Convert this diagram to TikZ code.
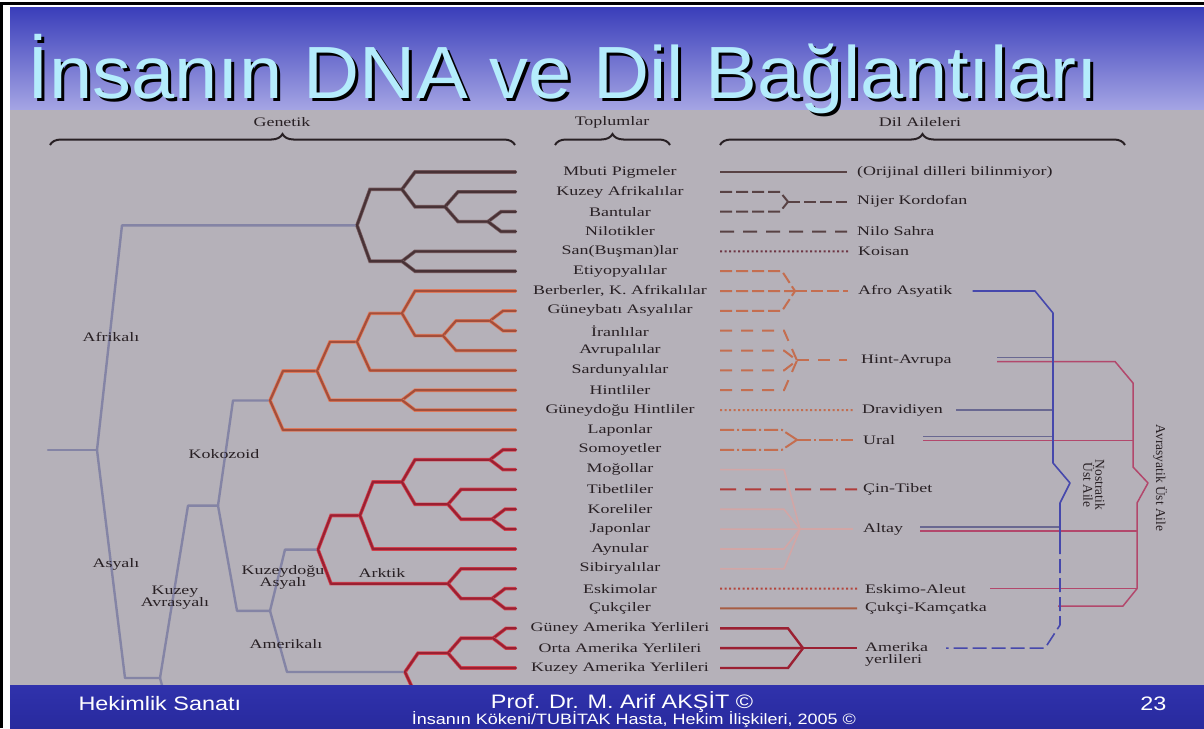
\documentclass[tikz,border=0pt]{standalone}
\usepackage{fontspec}
\setmainfont{Liberation Serif}
\newfontfamily\photofont[FakeStretch=1.38]{Liberation Serif}
\newfontfamily\titlefont[FakeStretch=1.05]{Liberation Sans}
\newfontfamily\footfont[FakeStretch=1.2]{Liberation Sans}
\usetikzlibrary{calc,decorations.pathreplacing}

\definecolor{bandtop}{RGB}{58,62,186}
\definecolor{bandbot}{RGB}{165,165,228}
\definecolor{titlecyan}{RGB}{180,236,252}
\definecolor{paper}{RGB}{181,177,185}
\definecolor{foottop}{RGB}{48,50,172}
\definecolor{footbot}{RGB}{40,42,158}
\definecolor{ink}{RGB}{40,32,36}
\definecolor{darkcore}{RGB}{72,50,54}
\definecolor{darkglow}{RGB}{120,92,96}
\definecolor{orcore}{RGB}{165,78,58}
\definecolor{orglow}{RGB}{228,128,98}
\definecolor{redcore}{RGB}{155,32,50}
\definecolor{redglow}{RGB}{215,70,82}
\definecolor{grayline}{RGB}{132,132,165}
\definecolor{nostblue}{RGB}{70,72,172}
\definecolor{avrred}{RGB}{178,72,108}
\definecolor{linkgray}{RGB}{105,104,145}
\definecolor{langdark}{RGB}{88,66,68}
\definecolor{langor}{RGB}{196,110,80}
\definecolor{langred}{RGB}{176,60,58}
\definecolor{langpale}{RGB}{210,166,166}

% branch: from parent, slant to the child's level, then straight on
\newcommand{\branch}[4][13]{\draw[#2] (#3) -- ([xshift=#1pt]#3 |- #4) -- (#4);}

\begin{document}
\begin{tikzpicture}[x=1pt, y=-1pt,
    lab/.style={font=\photofont\fontsize{13}{12}\selectfont, text=ink, inner sep=0pt},
    dil/.style={lab, anchor=west},
    tree/.style={line width=2.2pt, line cap=round, line join=round},
    darkbr/.style={tree, draw=darkcore, preaction={draw=darkglow, line width=3.6pt}},
    orbr/.style={tree, draw=orcore, preaction={draw=orglow, line width=3.6pt}},
    redbr/.style={tree, draw=redcore, preaction={draw=redglow, line width=3.6pt}},
    graybr/.style={line width=2.4pt, draw=grayline, line cap=round, line join=round},
    headbrace/.style={draw=ink, line width=2pt, decorate, decoration={brace, amplitude=11pt}},
    lang/.style={line width=2pt},
    nost/.style={draw=nostblue, line width=1.6pt, line join=round},
    avr/.style={draw=avrred, line width=1.5pt, line join=round},
    link/.style={draw=linkgray, line width=1.5pt}]

    % Slide background
    \useasboundingbox (0,0) rectangle (1204,728);
    \fill[white] (0,0) rectangle (1204,728);
    \shade[top color=bandtop, bottom color=bandbot] (10,7) rectangle (1204,110);
    \fill[paper] (10,110) rectangle (1204,685);
    \draw[line width=3pt] (1.5,728) -- (1.5,3.5) -- (1204,3.5);

    % Title
    \node[font=\titlefont\fontsize{74}{80}\selectfont, text=black, anchor=base, text depth=0pt] (titleshadow) at (566,101) {İnsanın DNA ve Dil Bağlantıları};
    \node[font=\titlefont\fontsize{74}{80}\selectfont, text=titlecyan, anchor=base, text depth=0pt] (title) at (563,98) {İnsanın DNA ve Dil Bağlantıları};

    % Column headers
    \node[lab] (genetik) at (282,122) {Genetik};
    \node[lab] (toplum) at (612,122) {Toplumlar};
    \node[lab] (aile) at (920,122) {Dil Aileleri};
    \draw[headbrace] (50,145) -- (515,145);
    \draw[headbrace] (555,145) -- (670,145);
    \draw[headbrace] (720,145) -- (1125,145);

    % Peoples
    \foreach \i/\lab in {1/Mbuti Pigmeler, 2/Kuzey Afrikalılar, 3/Bantular, 4/Nilotikler,
        5/San(Buşman)lar, 6/Etiyopyalılar, 7/{Berberler, K. Afrikalılar}, 8/Güneybatı Asyalılar,
        9/İranlılar, 10/Avrupalılar, 11/Sardunyalılar, 12/Hintliler, 13/Güneydoğu Hintliler,
        14/Laponlar, 15/Somoyetler, 16/Moğollar, 17/Tibetliler, 18/Koreliler, 19/Japonlar,
        20/Aynular, 21/Sibiryalılar, 22/Eskimolar, 23/Çukçiler, 24/Güney Amerika Yerlileri,
        25/Orta Amerika Yerlileri, 26/Kuzey Amerika Yerlileri} {
        \pgfmathsetmacro\ry{172+(\i-1)*19.84}
        \node[lab] (p\i) at (620,\ry) {\lab};
        \coordinate (t\i) at (516,\ry);
        \coordinate (d\i) at (720,\ry);
    }

    % Genetic tree: main (gray) branches
    \coordinate (stub) at (48,450);
    \coordinate (root) at (97,450);
    \coordinate (a0) at (357,225.32);
    \coordinate (asy) at (160,678);
    \coordinate (kav) at (218,505.6);
    \coordinate (kok) at (270,400.47);
    \coordinate (kdo) at (270,610.8);
    \coordinate (ark) at (318,549.58);
    \coordinate (amr) at (405,672);
    \draw[graybr] (stub) -- (root);
    \branch[25]{graybr}{root}{a0}
    \branch[28]{graybr}{root}{asy}
    \branch[28]{graybr}{asy}{kav}
    \draw[graybr] (asy) -- (166,700);
    \branch[15]{graybr}{kav}{kok}
    \branch[19]{graybr}{kav}{kdo}
    \branch[15]{graybr}{kdo}{ark}
    \branch[17]{graybr}{kdo}{amr}

    % Africans
    \coordinate (a1) at (402,189.36);
    \coordinate (a2) at (445,206.72);
    \coordinate (a3) at (488,221.6);
    \coordinate (a4) at (402,261.28);
    \branch{darkbr}{a0}{a1} \branch{darkbr}{a0}{a4}
    \branch{darkbr}{a1}{t1} \branch{darkbr}{a1}{a2}
    \branch{darkbr}{a2}{t2} \branch{darkbr}{a2}{a3}
    \branch{darkbr}{a3}{t3} \branch{darkbr}{a3}{t4}
    \branch{darkbr}{a4}{t5} \branch{darkbr}{a4}{t6}

    % Caucasoid
    \coordinate (c0) at (317,371.02);
    \coordinate (c1) at (357,341.88);
    \coordinate (c2) at (402,313.36);
    \coordinate (c3) at (443,335.68);
    \coordinate (c4) at (490,320.8);
    \coordinate (c5) at (402,400.16);
    \branch{orbr}{kok}{c0} \branch{orbr}{kok}{t14}
    \branch{orbr}{c0}{c1} \branch{orbr}{c0}{c5}
    \branch{orbr}{c1}{c2} \branch{orbr}{c1}{t11}
    \branch{orbr}{c2}{t7} \branch{orbr}{c2}{c3}
    \branch{orbr}{c3}{c4} \branch{orbr}{c3}{t10}
    \branch{orbr}{c4}{t8} \branch{orbr}{c4}{t9}
    \branch{orbr}{c5}{t12} \branch{orbr}{c5}{t13}

    % Arctic
    \coordinate (e0) at (360,515.48);
    \coordinate (e1) at (490,459.68);
    \coordinate (e2) at (402,482);
    \coordinate (e3) at (448,504.32);
    \coordinate (e4) at (492,519.2);
    \coordinate (e5) at (448,583.68);
    \coordinate (e6) at (492,598.56);
    \branch{redbr}{ark}{e0} \branch{redbr}{ark}{e5}
    \branch{redbr}{e0}{e2} \branch{redbr}{e0}{t20}
    \branch{redbr}{e2}{e1} \branch{redbr}{e2}{e3}
    \branch{redbr}{e1}{t15} \branch{redbr}{e1}{t16}
    \branch{redbr}{e3}{t17} \branch{redbr}{e3}{e4}
    \branch{redbr}{e4}{t18} \branch{redbr}{e4}{t19}
    \branch{redbr}{e5}{t21} \branch{redbr}{e5}{e6}
    \branch{redbr}{e6}{t22} \branch{redbr}{e6}{t23}

    % Americans
    \coordinate (m1) at (448,653.12);
    \coordinate (m2) at (493,638.24);
    \branch{redbr}{amr}{m1}
    \draw[redbr] (amr) -- (418,700);
    \branch{redbr}{m1}{m2} \branch{redbr}{m1}{t26}
    \branch{redbr}{m2}{t24} \branch{redbr}{m2}{t25}

    % Tree labels
    \node[lab] (afrikali) at (111,337) {Afrikalı};
    \node[lab] (asyali) at (116,564) {Asyalı};
    \node[lab, align=center] (kuzeyav) at (175,598) {Kuzey\\Avrasyalı};
    \node[lab] (kokozoid) at (224,454) {Kokozoid};
    \node[lab, align=center] (kuzeydo) at (283,577) {Kuzeydoğu\\Asyalı};
    \node[lab] (arktik) at (382,573) {Arktik};
    \node[lab] (amerikali) at (286,644) {Amerikalı};

    % Language families
    \node[dil] (orj) at (857,172) {(Orijinal dilleri bilinmiyor)};
    \draw[lang, draw=langdark] (d1) -- ([xshift=-10pt]orj.west);

    \node[dil] (nijer) at (857,201.76) {Nijer Kordofan};
    \coordinate (mnk) at (788,201.76);
    \foreach \r in {2,3} \draw[lang, draw=langdark, dash pattern=on 12pt off 4pt] (d\r) -- ([xshift=60pt]d\r) -- (mnk);
    \draw[lang, draw=langdark, dash pattern=on 12pt off 4pt] (mnk) -- ([xshift=-10pt]nijer.west);

    \node[dil] (nilo) at (857,231.52) {Nilo Sahra};
    \draw[lang, draw=langdark, dash pattern=on 14pt off 9pt] (d4) -- ([xshift=-10pt]nilo.west);

    \node[dil] (koisan) at (858,251.36) {Koisan};
    \draw[lang, draw=langdark!80!purple, dash pattern=on 2pt off 2.5pt] (d5) -- ([xshift=-8pt]koisan.west);

    \node[dil] (afro) at (858,291.04) {Afro Asyatik};
    \coordinate (maf) at (795,291.04);
    \foreach \r in {6,7,8} \draw[lang, draw=langor, dash pattern=on 12pt off 4pt] (d\r) -- ([xshift=62pt]d\r) -- (maf);
    \draw[lang, draw=langor, dash pattern=on 12pt off 4pt] (maf) -- ([xshift=-10pt]afro.west);

    \node[dil] (hint) at (861,360.48) {Hint-Avrupa};
    \coordinate (mhi) at (797,360.48);
    \foreach \r in {9,...,12} \draw[lang, draw=langor, dash pattern=on 12pt off 9pt] (d\r) -- ([xshift=64pt]d\r) -- (mhi);
    \draw[lang, draw=langor, dash pattern=on 12pt off 9pt] (mhi) -- ([xshift=-14pt]hint.west);

    \node[dil] (drav) at (862,410.08) {Dravidiyen};
    \draw[lang, draw=langor, dash pattern=on 2pt off 2.5pt] (d13) -- ([xshift=-8pt]drav.west);

    \node[dil] (ural) at (863,439.84) {Ural};
    \coordinate (mur) at (797,439.84);
    \foreach \r in {14,15} \draw[lang, draw=langor, dash pattern=on 14pt off 3pt on 2pt off 3pt] (d\r) -- ([xshift=62pt]d\r) -- (mur);
    \draw[lang, draw=langor, dash pattern=on 14pt off 3pt on 2pt off 3pt] (mur) -- ([xshift=-10pt]ural.west);

    \node[dil] (altay) at (863,529.12) {Altay};
    \coordinate (mal) at (800,529.12);
    \foreach \r in {16,18,19,20,21} \draw[line width=1.6pt, draw=langpale] (d\r) -- ([xshift=64pt]d\r) -- (mal);
    \draw[line width=1.6pt, draw=langpale] (mal) -- ([xshift=-10pt]altay.west);

    \node[dil] (cin) at (863,489.44) {Çin-Tibet};
    \draw[lang, draw=langred, dash pattern=on 16pt off 9pt] (d17) -- ([xshift=-6pt]cin.west);

    \node[dil] (eskimo) at (865,588.64) {Eskimo-Aleut};
    \draw[lang, draw=langred!80!langor, dash pattern=on 2pt off 2.5pt] (d22) -- ([xshift=-8pt]eskimo.west);

    \node[dil] (cukci) at (865,608.48) {Çukçi-Kamçatka};
    \draw[lang, draw=langor!85!black] (d23) -- ([xshift=-8pt]cukci.west);

    \node[dil, align=left] (amerika) at (865,654) {Amerika\\yerlileri};
    \coordinate (mam) at (803,648.16);
    \foreach \r in {24,25,26} \draw[line width=2.4pt, draw=redcore] (d\r) -- ([xshift=68pt]d\r) -- (mam);
    \draw[line width=2.4pt, draw=redcore] (mam) -- ([xshift=-8pt]amerika.west |- mam);

    % Super families
    \coordinate (nosttip) at (1070,483);
    \coordinate (avrtip) at (1148,483);
    \draw[link] (997,357.5) -- (1053,357.5);
    \draw[link] ([xshift=13pt]drav.east) -- (1053,410.08);
    \draw[link] (923,436.5) -- (1053,436.5);
    \draw[link] (920,527) -- (1060,527);
    \draw[avr] (923,440.5) -- (1133,440.5);
    \draw[avr] (920,531) -- (1137,531);
    \draw[avr] ([xshift=24pt]eskimo.east) -- (1137,588.64);
    \draw[avr] (997,361.5) -- (1115,361.5) -- (1133,383) -- (1133,467) -- (avrtip) -- (1137,503) -- (1137,588.64) -- (1123,606) -- (1058,606);
    \draw[nost] ([xshift=20pt]afro.east) -- (1035,291.04) -- (1053,313) -- (1053,463) -- (nosttip) -- (1060,503) -- (1060,540);
    \draw[nost, dash pattern=on 14pt off 5pt] (1060,540) -- (1060,625) -- (1045,648.16) -- ([xshift=18pt]amerika.east |- mam);
    \node[font=\fontsize{13.5}{12}\selectfont, text=ink, rotate=-90, align=center] (nostratik) at (1094,485) {Nostratik\\Üst Aile};
    \node[font=\fontsize{13.5}{12}\selectfont, text=ink, rotate=-90] (avrasyatik) at (1160,478) {Avrasyatik Üst Aile};

    % Footer
    \shade[top color=foottop, bottom color=footbot] (10,685) rectangle (1204,728);
    \node[font=\footfont\fontsize{19.5}{20}\selectfont, text=white, anchor=base west] (sanat) at (75,710) {Hekimlik Sanatı};
    \node[font=\footfont\fontsize{19.5}{20}\selectfont, text=white, anchor=base] (prof) at (622,708) {Prof. Dr. M. Arif AKŞİT ©};
    \node[font=\footfont\fontsize{15}{16}\selectfont, text=white, anchor=base] (kaynak) at (634,724) {İnsanın Kökeni/TUBİTAK Hasta, Hekim İlişkileri, 2005 ©};
    \node[font=\footfont\fontsize{19.5}{20}\selectfont, text=white, anchor=base east] (sayfa) at (1170,710) {23};
\end{tikzpicture}
\end{document}
